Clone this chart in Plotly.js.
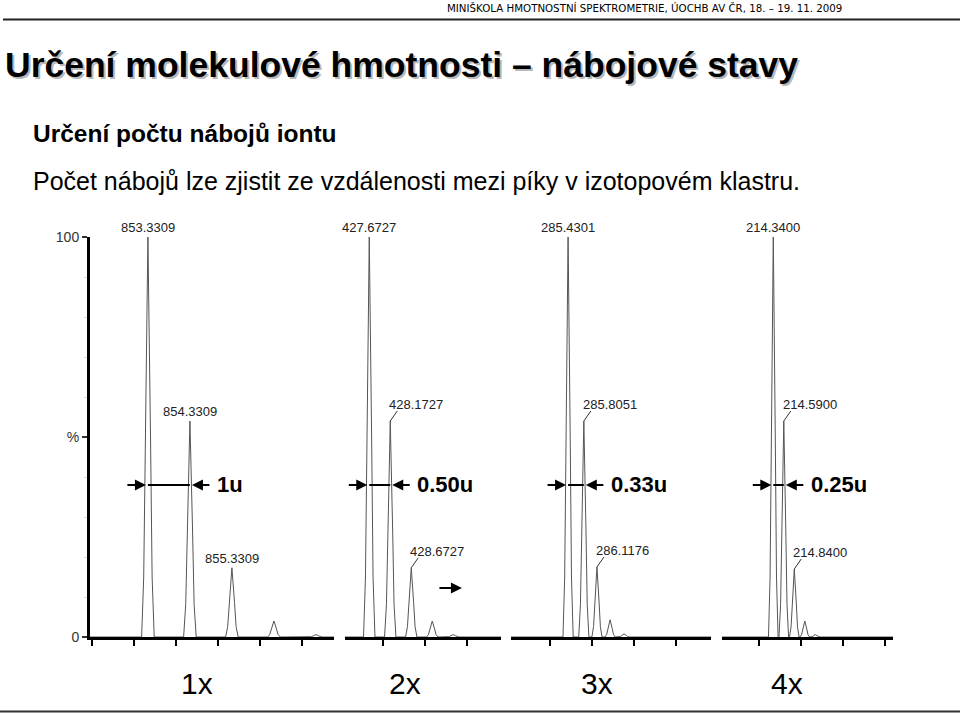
<!DOCTYPE html>
<html><head><meta charset="utf-8">
<script src="https://cdn.plot.ly/plotly-3.0.1.min.js"></script>
<style>html,body{margin:0;padding:0;background:#fff}#chart{width:960px;height:714px}</style>
</head><body><div id="chart"></div>
<script>
// ---------------- DATA ----------------
const panelLabels   = ['1x', '2x', '3x', '4x'];
const spacingLabels = ['1u', '0.50u', '0.33u', '0.25u'];

const mz1  = [853.3309, 854.3309, 855.3309, 856.3309, 857.3309];
const int1 = [100, 54, 17.3, 4, 0.6];
const mz2  = [427.6727, 428.1727, 428.6727, 429.1727, 429.6727];
const int2 = [100, 54, 17.3, 4, 0.6];
const mz3  = [285.4301, 285.8051, 286.1176, 286.4301, 286.7634];
const int3 = [100, 54, 17.5, 4.3, 0.8];
const mz4  = [214.3400, 214.5900, 214.8400, 215.0900, 215.3400];
const int4 = [100, 54, 17, 4, 0.6];

const yTickVals = [0, 50, 100];
const yTickText = ['0', '%', '100'];

const headerText   = 'MINIŠKOLA HMOTNOSTNÍ SPEKTROMETRIE, ÚOCHB AV ČR, 18. – 19. 11. 2009';
const titleText    = 'Určení molekulové hmotnosti – nábojové stavy';
const subtitleText = 'Určení počtu nábojů iontu';
const bodyText     = 'Počet nábojů lze zjistit ze vzdálenosti mezi píky v izotopovém klastru.';

// ---------------- LAYOUT / STYLE ----------------
const W = 960, H = 714;
const panelMz  = [mz1, mz2, mz3, mz4];
const panelInt = [int1, int2, int3, int4];
const domPx    = [[90, 334], [345, 501], [511, 711], [722, 893]];
const ranges   = [[851.952, 857.762], [427.095, 430.81], [284.071, 288.833], [213.119, 217.19]];
const widthScale = [1.05, 0.95, 0.85, 0.8];
const PROFILE_PX  = [-6, -4, -2.5, 0, 2.5, 4, 6];
const PROFILE_REL = [0, 0.15, 0.5, 1, 0.5, 0.15, 0];
const yDomPx = [637, 237];
const ARROW_LEVEL = 38;
const FONT = 'Liberation Sans, Arial, sans-serif';
const LINE_COL = '#555';

const px2paperX = p => p / W;
const px2paperY = p => 1 - p / H;

function templ(off) { // piecewise-linear peak template, off in px
  if (off <= PROFILE_PX[0] || off >= PROFILE_PX[PROFILE_PX.length - 1]) return 0;
  for (let i = 0; i < PROFILE_PX.length - 1; i++) {
    if (off >= PROFILE_PX[i] && off <= PROFILE_PX[i + 1]) {
      const t = (off - PROFILE_PX[i]) / (PROFILE_PX[i + 1] - PROFILE_PX[i]);
      return PROFILE_REL[i] + t * (PROFILE_REL[i + 1] - PROFILE_REL[i]);
    }
  }
  return 0;
}

const traces = [];
const annotations = [];
const shapes = [];
const layout = {
  width: W, height: H,
  margin: {l: 0, r: 0, t: 0, b: 0},
  paper_bgcolor: '#fff', plot_bgcolor: '#fff',
  showlegend: false,
  yaxis: {
    domain: [px2paperY(yDomPx[0]), px2paperY(yDomPx[1])],
    range: [0, 100], anchor: 'x',
    showline: true, linewidth: 3, linecolor: '#000',
    showgrid: false, zeroline: false,
    tickmode: 'array', tickvals: yTickVals, ticktext: yTickText,
    ticks: 'outside', ticklen: 5, tickwidth: 1.5, tickcolor: '#333',
    tickfont: {family: FONT, size: 14, color: '#333'},
    minor: {tickmode: 'linear', tick0: 0, dtick: 10, ticks: 'outside', ticklen: 3, tickwidth: 1, tickcolor: '#ddd'},
    fixedrange: true
  }
};

panelMz.forEach((mzs, k) => {
  const ints = panelInt[k];
  const axName = k === 0 ? 'xaxis' : 'xaxis' + (k + 1);
  const xref = k === 0 ? 'x' : 'x' + (k + 1);
  const pxPerU = (domPx[k][1] - domPx[k][0]) / (ranges[k][1] - ranges[k][0]);
  const ws = widthScale[k];
  layout[axName] = {
    domain: [px2paperX(domPx[k][0]), px2paperX(domPx[k][1])],
    range: ranges[k], anchor: 'y',
    showline: true, linewidth: 3, linecolor: '#000',
    showgrid: false, zeroline: false,
    tickmode: 'linear', tick0: 0, dtick: 1,
    ticks: 'outside', ticklen: 6, tickwidth: 2, tickcolor: '#000',
    showticklabels: false, fixedrange: true
  };
  // profile spectrum built from the centroid list
  let bx = [ranges[k][0], ranges[k][1]];
  mzs.forEach(m => PROFILE_PX.forEach(o => bx.push(m + o * ws / pxPerU)));
  bx = Array.from(new Set(bx)).sort((a, b) => a - b);
  const by = bx.map(x => {
    let s = 0;
    mzs.forEach((m, i) => { s += ints[i] * templ((x - m) * pxPerU / ws); });
    return s;
  });
  traces.push({
    type: 'scatter', mode: 'lines', x: bx, y: by,
    xaxis: xref, yaxis: 'y', cliponaxis: false,
    line: {color: LINE_COL, width: 1}, hoverinfo: 'skip'
  });

  // peak labels (first three peaks)
  for (let i = 0; i < 3; i++) {
    const lab = mzs[i].toFixed(4);
    const leader = (k > 0 && i > 0);
    if (!leader) {
      annotations.push({
        xref: xref, yref: 'y', x: mzs[i], y: ints[i], text: lab, showarrow: false,
        xanchor: 'center', yanchor: 'bottom', yshift: 0,
        font: {family: FONT, size: 13, color: '#222'}
      });
    } else {
      annotations.push({
        xref: xref, yref: 'y', x: mzs[i], y: ints[i], text: lab, showarrow: false,
        xanchor: 'left', yanchor: 'bottom', xshift: -3, yshift: 7,
        font: {family: FONT, size: 13, color: '#222'}
      });
      shapes.push({
        type: 'line', xref: xref, yref: 'y',
        xsizemode: 'pixel', xanchor: mzs[i], x0: 0, x1: 7,
        ysizemode: 'pixel', yanchor: ints[i], y0: 0, y1: 10,
        line: {color: '#333', width: 1}
      });
    }
  }

  // spacing measurement arrows
  shapes.push({
    type: 'line', xref: xref, yref: 'y',
    x0: mzs[0], x1: mzs[1], y0: ARROW_LEVEL, y1: ARROW_LEVEL,
    line: {color: '#000', width: 2}
  });
  annotations.push({
    xref: xref, yref: 'y', x: mzs[0], y: ARROW_LEVEL, text: '', showarrow: true,
    ax: -22, ay: 0, arrowhead: 2, arrowsize: 1.1, arrowwidth: 2, arrowcolor: '#000', standoff: 2
  });
  annotations.push({
    xref: xref, yref: 'y', x: mzs[1], y: ARROW_LEVEL, text: '', showarrow: true,
    ax: 21, ay: 0, arrowhead: 2, arrowsize: 1.1, arrowwidth: 2, arrowcolor: '#000', standoff: 2
  });
  annotations.push({
    xref: xref, yref: 'y', x: mzs[1], y: ARROW_LEVEL, text: '<b>' + spacingLabels[k] + '</b>',
    showarrow: false, xanchor: 'left', yanchor: 'middle', xshift: 25,
    font: {family: FONT, size: 22, color: '#000'}
  });

  // panel charge label
  annotations.push({
    xref: 'paper', yref: 'paper',
    x: px2paperX([197, 405, 597, 787][k]), y: px2paperY(683),
    text: panelLabels[k], showarrow: false, xanchor: 'center', yanchor: 'middle',
    font: {family: FONT, size: 30, color: '#000'}
  });
});

// extra small arrow in the 2x panel
annotations.push({
  xref: 'x2', yref: 'y', x: 429.88, y: 12.25, text: '', showarrow: true,
  ax: -24, ay: 0, arrowhead: 2, arrowsize: 1.1, arrowwidth: 2, arrowcolor: '#000', standoff: 0
});

// header, title and text
annotations.push({
  xref: 'paper', yref: 'paper', x: px2paperX(445), y: px2paperY(8),
  text: headerText, showarrow: false, xanchor: 'left', yanchor: 'middle',
  font: {family: 'DejaVu Sans, Verdana, sans-serif', size: 10.25, color: '#000'}
});
annotations.push({
  xref: 'paper', yref: 'paper', x: px2paperX(3), y: px2paperY(65),
  text: '<b>' + titleText + '</b>', showarrow: false, xanchor: 'left', yanchor: 'middle',
  font: {family: FONT, size: 35.5, color: '#000'}, name: 'slideTitle'
});
annotations.push({
  xref: 'paper', yref: 'paper', x: px2paperX(31), y: px2paperY(133),
  text: '<b>' + subtitleText + '</b>', showarrow: false, xanchor: 'left', yanchor: 'middle',
  font: {family: FONT, size: 24.5, color: '#000'}
});
annotations.push({
  xref: 'paper', yref: 'paper', x: px2paperX(31), y: px2paperY(181),
  text: bodyText, showarrow: false, xanchor: 'left', yanchor: 'middle',
  font: {family: FONT, size: 25, color: '#000'}
});

// slide rules
shapes.push({type: 'line', xref: 'paper', yref: 'paper', x0: px2paperX(3), x1: 1,
  y0: px2paperY(19.5), y1: px2paperY(19.5), line: {color: '#222', width: 2}});
shapes.push({type: 'line', xref: 'paper', yref: 'paper', x0: 0, x1: 1,
  y0: px2paperY(711.5), y1: px2paperY(711.5), line: {color: '#333', width: 2}});

layout.annotations = annotations;
layout.shapes = shapes;

Plotly.newPlot('chart', traces, layout, {staticPlot: true, displayModeBar: false}).then(gd => {
  // soft drop shadow on the slide title (as in the original slide)
  document.querySelectorAll('#chart .annotation-text').forEach(t => {
    if (t.textContent === titleText) t.style.textShadow = '2px 2px 0 #b8b8b8';
  });
});
</script>
</body></html>
